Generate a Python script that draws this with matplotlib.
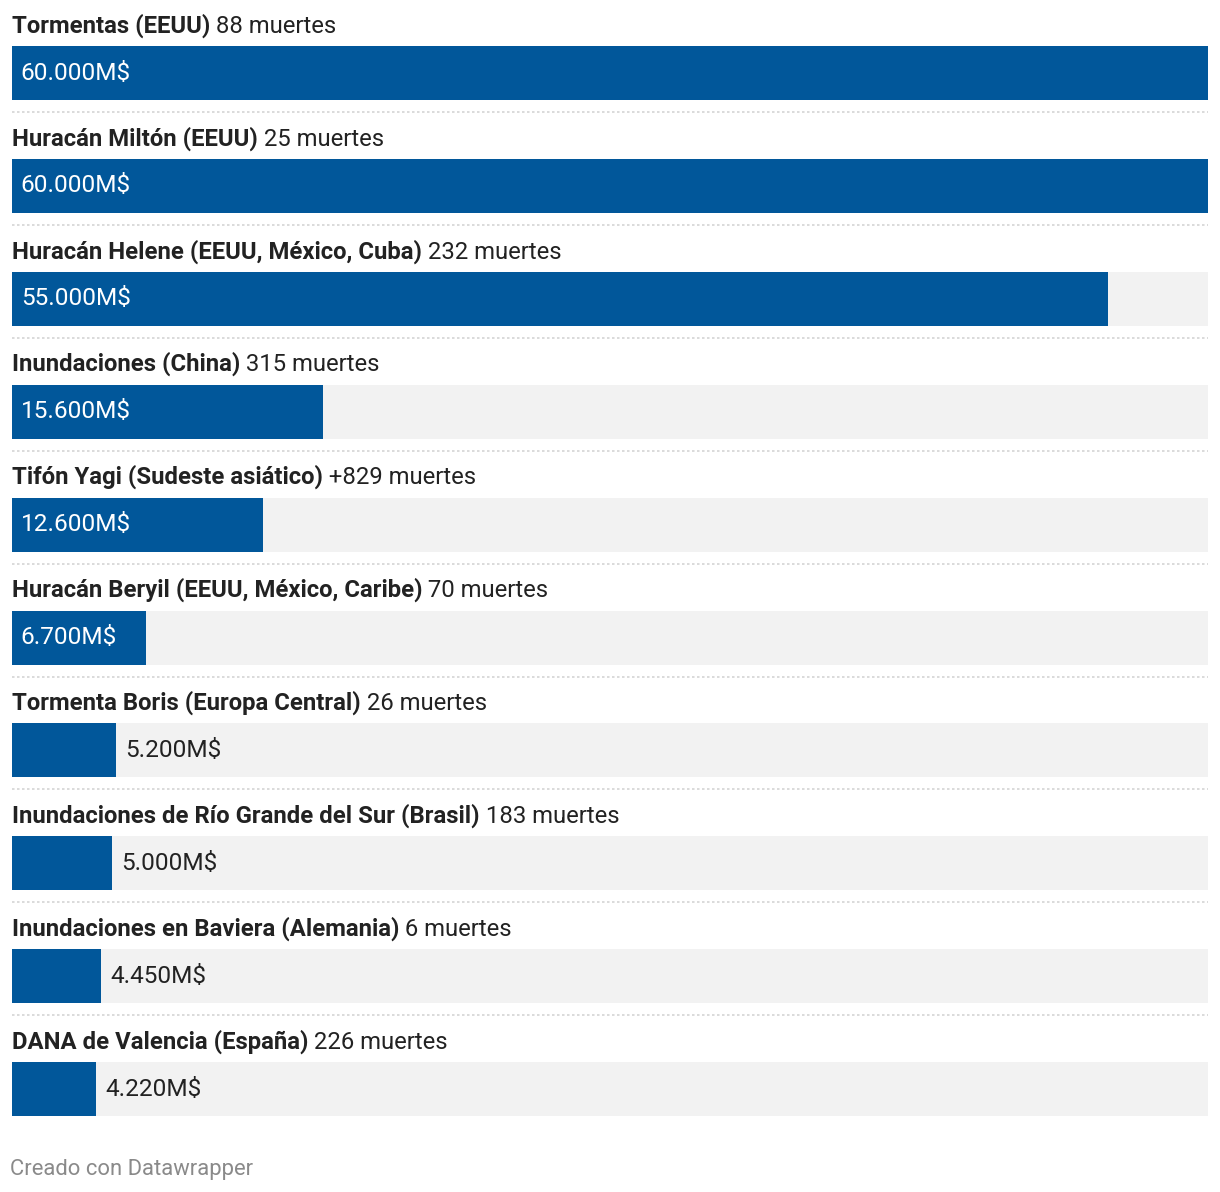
import matplotlib
matplotlib.use("Agg")
import matplotlib.pyplot as plt

plt.rcParams['font.family'] = ['Roboto', 'DejaVu Sans']

# datos
events = ["Tormentas (EEUU)", "Huracán Miltón (EEUU)", "Huracán Helene (EEUU, México, Cuba)",
          "Inundaciones (China)", "Tifón Yagi (Sudeste asiático)",
          "Huracán Beryil (EEUU, México, Caribe)", "Tormenta Boris (Europa Central)",
          "Inundaciones de Río Grande del Sur (Brasil)", "Inundaciones en Baviera (Alemania)",
          "DANA de Valencia (España)"]
deaths = ["88 muertes", "25 muertes", "232 muertes", "315 muertes", "+829 muertes",
          "70 muertes", "26 muertes", "183 muertes", "6 muertes", "226 muertes"]
costs = [60000, 60000, 55000, 15600, 12600, 6700, 5200, 5000, 4450, 4220]
cost_labels = ["60.000M$", "60.000M$", "55.000M$", "15.600M$", "12.600M$",
               "6.700M$", "5.200M$", "5.000M$", "4.450M$", "4.220M$"]

blue = "#01579a"
grey_bg = "#f2f2f2"
dark = "#222222"

W, H = 1220, 1192
fig = plt.figure(figsize=(W / 100, H / 100), dpi=100)
ax = fig.add_axes([12 / W, 0, 1196 / W, 1])
ax.set_xlim(0, 60000)
row = 112.9
top = -73 / row
ax.set_ylim(top + H / row, top)
ax.axis("off")

ypos = list(range(len(costs)))
ax.barh(ypos, [60000] * len(costs), height=54 / row, color=grey_bg, zorder=1)
ax.barh(ypos, costs, height=54 / row, color=blue, zorder=2)

for i in ypos:
    # título del evento: parte en negrita + muertes
    t = ax.text(0, i - 47.5 / row, events[i], fontsize=17.2, fontweight="bold",
                color=dark, ha="left", va="center")
    ax.annotate(" " + deaths[i], xy=(1, 0), xycoords=t, fontsize=17.2,
                color=dark, ha="left", va="bottom")
    # valor
    if costs[i] > 6000:
        ax.annotate(cost_labels[i], xy=(0, i), xytext=(6.3, 0), textcoords="offset points",
                    fontsize=17.6, color="white", ha="left", va="center", zorder=3)
    else:
        ax.annotate(cost_labels[i], xy=(costs[i], i), xytext=(6.8, 0), textcoords="offset points",
                    fontsize=17.6, color=dark, ha="left", va="center", zorder=3)
    # separador punteado
    if i < len(costs) - 1:
        ax.plot([0, 60000], [i + 39 / row, i + 39 / row], color="#d4d4d4",
                linewidth=1.2, linestyle=(0, (1.5, 1.5)), zorder=1)

fig.text(10 / W, 1 - 1169 / H, "Creado con Datawrapper", fontsize=15.85,
         color="#8a8a8a", ha="left", va="center")

fig.savefig("out.png", dpi=100)
